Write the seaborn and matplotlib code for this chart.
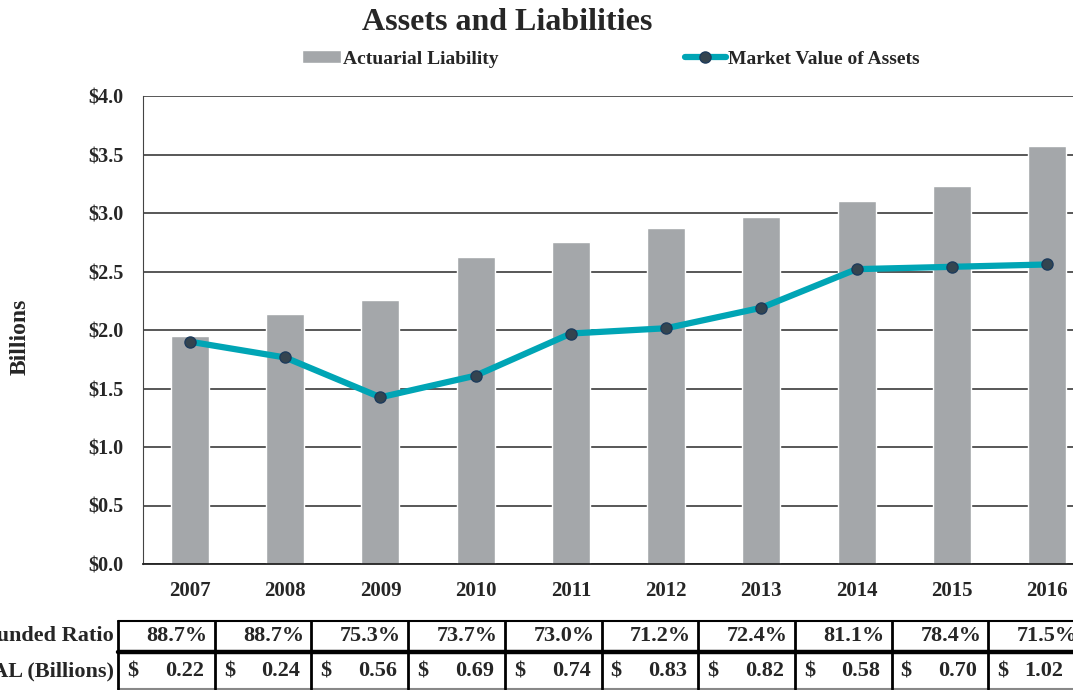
import numpy as np
import pandas as pd
import matplotlib
matplotlib.use("Agg")
import matplotlib.pyplot as plt
from matplotlib.lines import Line2D
import seaborn as sns

# Data
years = ["2007", "2008", "2009", "2010", "2011", "2012", "2013", "2014", "2015", "2016"]
actuarial_liability = [1.95, 2.14, 2.26, 2.62, 2.75, 2.875, 2.97, 3.10, 3.23, 3.575]
market_value = [1.90, 1.765, 1.425, 1.61, 1.97, 2.015, 2.19, 2.52, 2.54, 2.56]
funded_ratio = ["88.7%", "88.7%", "75.3%", "73.7%", "73.0%", "71.2%", "72.4%", "81.1%", "78.4%", "71.5%"]
ual = ["0.22", "0.24", "0.56", "0.69", "0.74", "0.83", "0.82", "0.58", "0.70", "1.02"]
yticks = [0.0, 0.5, 1.0, 1.5, 2.0, 2.5, 3.0, 3.5, 4.0]

df = pd.DataFrame({"Year": years, "AL": actuarial_liability, "MVA": market_value})
df["pos"] = np.arange(len(df))

sns.set_style("white")
plt.rcParams["font.family"] = ["Liberation Serif", "DejaVu Serif"]
plt.rcParams["font.weight"] = "bold"

W, H = 1073, 690
fig = plt.figure(figsize=(W / 100, H / 100), dpi=100)
ax = fig.add_axes([143 / W, 1 - 564 / H, 930 / W, 468 / H])

bar_color = "#A4A7AA"
teal = "#00A5B5"

ax.set_axisbelow(True)
ax.yaxis.grid(True, color="#4a4a4a", linewidth=1.3)
sns.barplot(data=df, x="Year", y="AL", color=bar_color, width=0.4,
            saturation=1, label="Actuarial Liability", ax=ax)
sns.lineplot(data=df, x="pos", y="MVA", color=teal, linewidth=4.5,
             marker="o", markersize=8, markerfacecolor="#34444f",
             markeredgecolor="#1d3b5c", markeredgewidth=1,
             label="Market Value of Assets", ax=ax)

ax.set_xlim(-0.4936, 9.273)
ax.set_ylim(0, 4.0)
ax.set_yticks(yticks)
ax.set_yticklabels([f"${v:.1f}" for v in yticks], fontsize=14.5, fontweight="bold")
ax.set_xticks(range(len(years)))
ax.set_xticklabels(years, fontsize=15, fontweight="bold")
ax.tick_params(axis="y", length=6, width=1, color="#444444", pad=8)
ax.tick_params(axis="x", length=0, pad=12)
ax.set_xlabel("")
ax.set_ylabel("")
for s in ["top", "right"]:
    ax.spines[s].set_visible(False)
ax.spines["left"].set_color("#444444")
ax.spines["bottom"].set_color("#222222")
ax.spines["bottom"].set_linewidth(1.3)

handles, labels = ax.get_legend_handles_labels()
hmap = dict(zip(labels, handles))
if ax.legend_:
    ax.legend_.remove()
fig.legend([hmap["Actuarial Liability"]], ["Actuarial Liability"], loc="center left",
           bbox_to_anchor=(302 / W, 1 - 59 / H), frameon=False, fontsize=14,
           handlelength=2.0, handleheight=0.6, handletextpad=0.1, borderpad=0, borderaxespad=0)
fig.legend([hmap["Market Value of Assets"]], ["Market Value of Assets"], loc="center left",
           bbox_to_anchor=(685 / W, 1 - 59 / H), frameon=False, fontsize=14,
           handlelength=2.1, handletextpad=0.1, borderpad=0, borderaxespad=0)

fig.text(507 / W, 1 - 22 / H, "Assets and Liabilities", ha="center", va="center",
         fontsize=23, fontweight="bold")
fig.text(20 / W, 1 - 337 / H, "Billions", rotation=90, ha="center", va="center",
         fontsize=17, fontweight="bold")

# Table under the chart
def fx(px):
    return px / W

def fy(py):
    return 1 - py / H

bounds = [118 + 96.7 * i for i in range(len(years) + 1)]
fig.add_artist(Line2D([fx(118), 1], [fy(621), fy(621)], color="black", lw=1.5))
fig.add_artist(Line2D([fx(118), 1], [fy(652), fy(652)], color="black", lw=3.2))
fig.add_artist(Line2D([fx(118), 1], [fy(689), fy(689)], color="#888888", lw=1.5))
for b in bounds:
    fig.add_artist(Line2D([fx(b), fx(b)], [fy(621), fy(689)], color="black", lw=2))

fig.text(fx(114), fy(636), "Funded Ratio", ha="right", va="center", fontsize=16, fontweight="bold")
fig.text(fx(114), fy(671), "UAL (Billions)", ha="right", va="center", fontsize=16, fontweight="bold")
for i in range(len(years)):
    left, right = bounds[i], bounds[i + 1]
    fig.text(fx(right - 7), fy(636), funded_ratio[i], ha="right", va="center",
             fontsize=16, fontweight="bold")
    fig.text(fx(left + 9), fy(671), "$", ha="left", va="center", fontsize=16, fontweight="bold")
    fig.text(fx(min(right - 11, 1063)), fy(671), ual[i], ha="right", va="center",
             fontsize=16, fontweight="bold")

fig.savefig("out.png", dpi=100)
